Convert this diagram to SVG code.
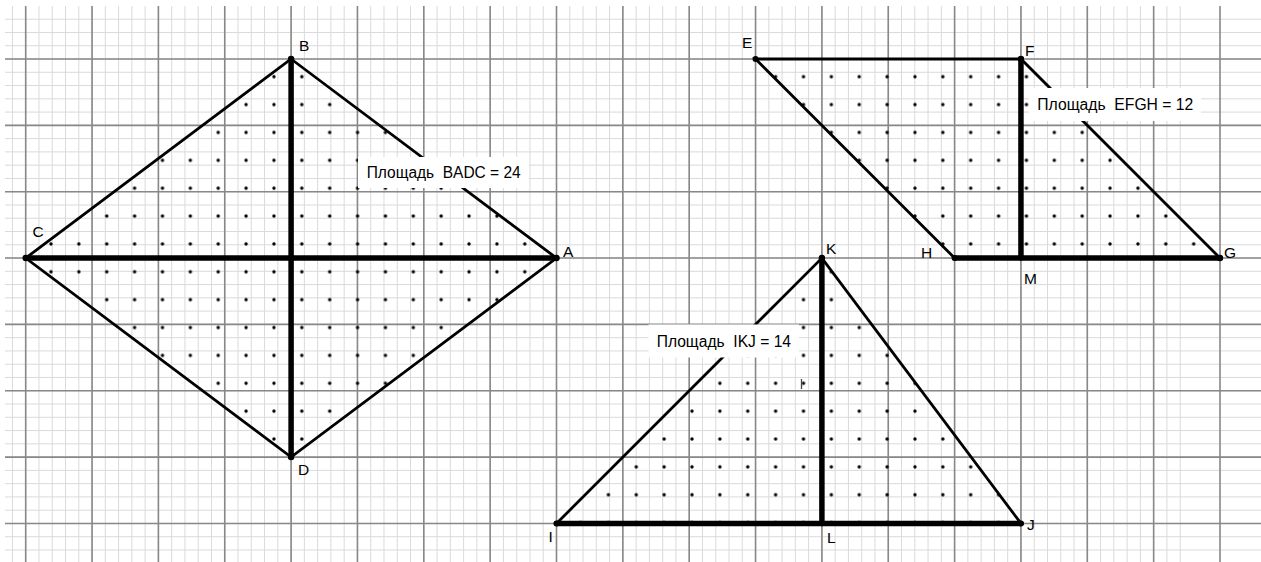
<svg xmlns="http://www.w3.org/2000/svg" width="1261" height="562" viewBox="0 0 1261 562">
<defs>
<style>
.minor{stroke:#dadada;stroke-width:1;fill:none}
.major{stroke:#888;stroke-width:1.6;fill:none}
.fill{fill:url(#dots);stroke:none}
.thin{stroke:#000;stroke-width:2.8;stroke-linecap:round;fill:none}
.thick{stroke:#000;stroke-width:5.5;stroke-linecap:round;fill:none}
.pt{fill:#000}
.box{fill:#fff}
.lbl{font-family:"Liberation Sans",Arial,sans-serif;font-size:15.5px;fill:#000}
.area{font-family:"Liberation Sans",Arial,sans-serif;font-size:16px;fill:#000;white-space:pre}
</style>
<pattern id="dots" patternUnits="userSpaceOnUse" x="9.2" y="7.03" width="27.87" height="27.87">
<circle cx="13.935" cy="13.935" r="1.7" fill="#000"/>
</pattern>
</defs>
<rect x="0" y="0" width="1261" height="562" fill="#fff"/>
<g id="grid">
<path class="minor" d="M12.43 6v556m13.27-556v556m13.27-556v556m13.27-556v556m13.27-556v556m13.27-556v556m13.27-556v556m13.27-556v556m13.27-556v556m13.27-556v556m13.27-556v556m13.27-556v556m13.27-556v556m13.27-556v556m13.27-556v556m13.27-556v556m13.27-556v556m13.27-556v556m13.27-556v556m13.27-556v556m13.27-556v556m13.27-556v556m13.27-556v556m13.27-556v556m13.27-556v556m13.27-556v556m13.27-556v556m13.27-556v556m13.27-556v556m13.27-556v556m13.27-556v556m13.27-556v556m13.27-556v556m13.27-556v556m13.27-556v556m13.27-556v556m13.27-556v556m13.27-556v556m13.27-556v556m13.27-556v556m13.27-556v556m13.27-556v556m13.27-556v556m13.27-556v556m13.27-556v556m13.27-556v556m13.27-556v556m13.27-556v556m13.27-556v556m13.27-556v556m13.27-556v556m13.27-556v556m13.27-556v556m13.27-556v556m13.27-556v556m13.27-556v556m13.27-556v556m13.27-556v556m13.27-556v556m13.27-556v556m13.27-556v556m13.27-556v556m13.27-556v556m13.27-556v556m13.27-556v556m13.27-556v556m13.27-556v556m13.27-556v556m13.27-556v556m13.27-556v556m13.27-556v556m13.27-556v556m13.27-556v556m13.27-556v556m13.27-556v556m13.27-556v556m13.27-556v556m13.27-556v556m13.27-556v556m13.27-556v556m13.27-556v556m13.27-556v556m13.27-556v556m13.27-556v556m13.27-556v556m13.27-556v556m13.27-556v556m13.27-556v556m13.27-556v556"/>
<path class="minor" d="M5 19.19h1256m-1256 13.27h1256m-1256 13.27h1256m-1256 13.27h1256m-1256 13.27h1256m-1256 13.27h1256m-1256 13.27h1256m-1256 13.27h1256m-1256 13.27h1256m-1256 13.27h1256m-1256 13.27h1256m-1256 13.27h1256m-1256 13.27h1256m-1256 13.27h1256m-1256 13.27h1256m-1256 13.27h1256m-1256 13.27h1256m-1256 13.27h1256m-1256 13.27h1256m-1256 13.27h1256m-1256 13.27h1256m-1256 13.27h1256m-1256 13.27h1256m-1256 13.27h1256m-1256 13.27h1256m-1256 13.27h1256m-1256 13.27h1256m-1256 13.27h1256m-1256 13.27h1256m-1256 13.27h1256m-1256 13.27h1256m-1256 13.27h1256m-1256 13.27h1256m-1256 13.27h1256m-1256 13.27h1256m-1256 13.27h1256m-1256 13.27h1256m-1256 13.27h1256m-1256 13.27h1256m-1256 13.27h1256m-1256 13.27h1256"/>
<path class="major" d="M25.7 6v556m66.35-556v556m66.35-556v556m66.35-556v556m66.35-556v556m66.35-556v556m66.35-556v556m66.35-556v556m66.35-556v556m66.35-556v556m66.35-556v556m66.35-556v556m66.35-556v556m66.35-556v556m66.35-556v556m66.35-556v556m66.35-556v556m66.35-556v556m66.35-556v556"/>
<path class="major" d="M5 59h1256m-1256 66.35h1256m-1256 66.35h1256m-1256 66.35h1256m-1256 66.35h1256m-1256 66.35h1256m-1256 66.35h1256m-1256 66.35h1256"/>
</g>
<g id="figure-BADC">
<polygon class="fill" points="291.1,59 556.5,258.05 291.1,457.1 25.7,258.05"/>
<polygon class="thin" points="291.1,59 556.5,258.05 291.1,457.1 25.7,258.05"/>
<g id="connectors-BADC">
<line class="thick" x1="25.7" y1="258.05" x2="556.5" y2="258.05"/>
<line class="thick" x1="291.1" y1="59" x2="291.1" y2="457.1"/>
</g>
<circle class="pt" cx="291.1" cy="59" r="3.2"/>
<circle class="pt" cx="556.5" cy="258.05" r="3.2"/>
<circle class="pt" cx="291.1" cy="457.1" r="3.2"/>
<circle class="pt" cx="25.7" cy="258.05" r="3.2"/>
<rect class="box" x="358" y="157" width="171" height="31"/>
<text class="area" x="366.7" y="178.3" textLength="154" lengthAdjust="spacingAndGlyphs">Площадь  BADC = 24</text>
<text class="lbl" x="299" y="51">B</text>
<text class="lbl" x="32.5" y="237">C</text>
<text class="lbl" x="563" y="257">A</text>
<text class="lbl" x="298" y="475">D</text>
</g>
<g id="figure-EFGH">
<polygon class="fill" points="755.55,59 1020.95,59 1220,258.05 954.6,258.05"/>
<polyline class="thin" points="954.6,258.05 755.55,59 1020.95,59 1220,258.05"/>
<g id="connectors-EFGH">
<line class="thick" x1="954.6" y1="258.05" x2="1220" y2="258.05"/>
<line class="thick" x1="1020.95" y1="59" x2="1020.95" y2="258.05"/>
</g>
<circle class="pt" cx="755.55" cy="59" r="3"/>
<circle class="pt" cx="1020.95" cy="59" r="3.2"/>
<circle class="pt" cx="1220" cy="258.05" r="3.2"/>
<circle class="pt" cx="954.6" cy="258.05" r="3"/>
<rect class="box" x="1029" y="88" width="172" height="33"/>
<text class="area" x="1037.3" y="110" textLength="156" lengthAdjust="spacingAndGlyphs">Площадь  EFGH = 12</text>
<text class="lbl" x="742" y="48">E</text>
<text class="lbl" x="1025" y="56">F</text>
<text class="lbl" x="921" y="258">H</text>
<text class="lbl" x="1224" y="258">G</text>
<text class="lbl" x="1024" y="284">M</text>
</g>
<g id="figure-IKJ">
<polygon class="fill" points="556.5,523.45 821.9,258.05 1020.95,523.45"/>
<polyline class="thin" points="556.5,523.45 821.9,258.05 1020.95,523.45"/>
<g id="connectors-IKJ">
<line class="thick" x1="556.5" y1="523.45" x2="1020.95" y2="523.45"/>
<line class="thick" x1="821.9" y1="258.05" x2="821.9" y2="523.45"/>
</g>
<circle class="pt" cx="821.9" cy="258.05" r="3.2"/>
<circle class="pt" cx="556.5" cy="523.45" r="3"/>
<circle class="pt" cx="1020.95" cy="523.45" r="3"/>
<line x1="801.5" y1="379" x2="801.5" y2="389" stroke="#444" stroke-width="1.3"/>
<rect class="box" x="648.5" y="324.5" width="150.5" height="33"/>
<text class="area" x="656.7" y="346.7" textLength="134.3" lengthAdjust="spacingAndGlyphs">Площадь  IKJ = 14</text>
<text class="lbl" x="826" y="254">K</text>
<text class="lbl" x="548.5" y="542">I</text>
<text class="lbl" x="827" y="543">L</text>
<text class="lbl" x="1027" y="530">J</text>
</g>
</svg>
